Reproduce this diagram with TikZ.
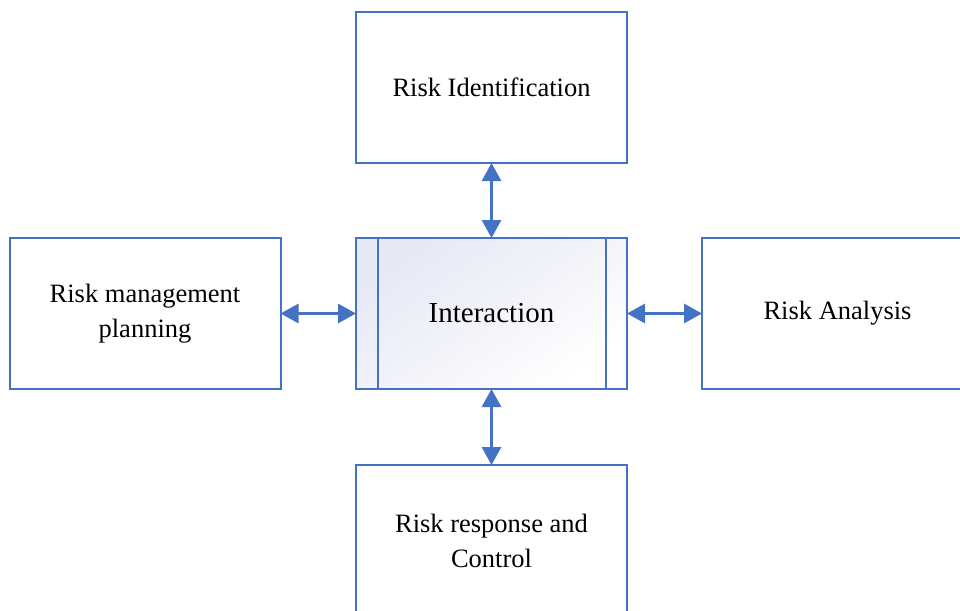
\documentclass[tikz,border=0pt]{standalone}
\usepackage{fontspec}
\setmainfont{Liberation Serif}
\usetikzlibrary{arrows.meta}
\definecolor{bl}{HTML}{4472C4}
\definecolor{lav}{HTML}{E6E8F4}
\begin{document}
\begin{tikzpicture}[x=1pt,y=-1pt,
  box/.style={draw=bl,line width=2pt,minimum width=271pt,minimum height=151pt,inner sep=0pt,align=center,font=\fontsize{26.5}{35}\selectfont},
  conn/.style={draw=bl,line width=3pt,{Triangle[length=18pt,width=19pt]}-{Triangle[length=18pt,width=19pt]},shorten <=-1pt,shorten >=-1pt}]
\useasboundingbox (0,0) rectangle (960,610);
\clip (0,0) rectangle (960,610);
\node[box] (top) at (491.5,87.5) {Risk Identification};
\node[box] (left) at (145,313.5) {Risk management\\planning};
\node[box] (right) at (837.5,313.5) {Risk Analysis};
\node[box] (bot) at (491.5,540.5) {Risk response and\\Control};
\node[box,shading=axis,top color=lav,bottom color=white,shading angle=35,font=\fontsize{29}{35}\selectfont] (mid) at (491.5,313.5) {Interaction};
\draw[bl,line width=2pt] ([xshift=23pt]mid.north west) -- ([xshift=23pt]mid.south west);
\draw[bl,line width=2pt] ([xshift=-22pt]mid.north east) -- ([xshift=-22pt]mid.south east);
\draw[conn] (top) -- (mid);
\draw[conn] (left) -- (mid);
\draw[conn] (mid) -- (right);
\draw[conn] (mid) -- (bot);
\end{tikzpicture}
\end{document}
